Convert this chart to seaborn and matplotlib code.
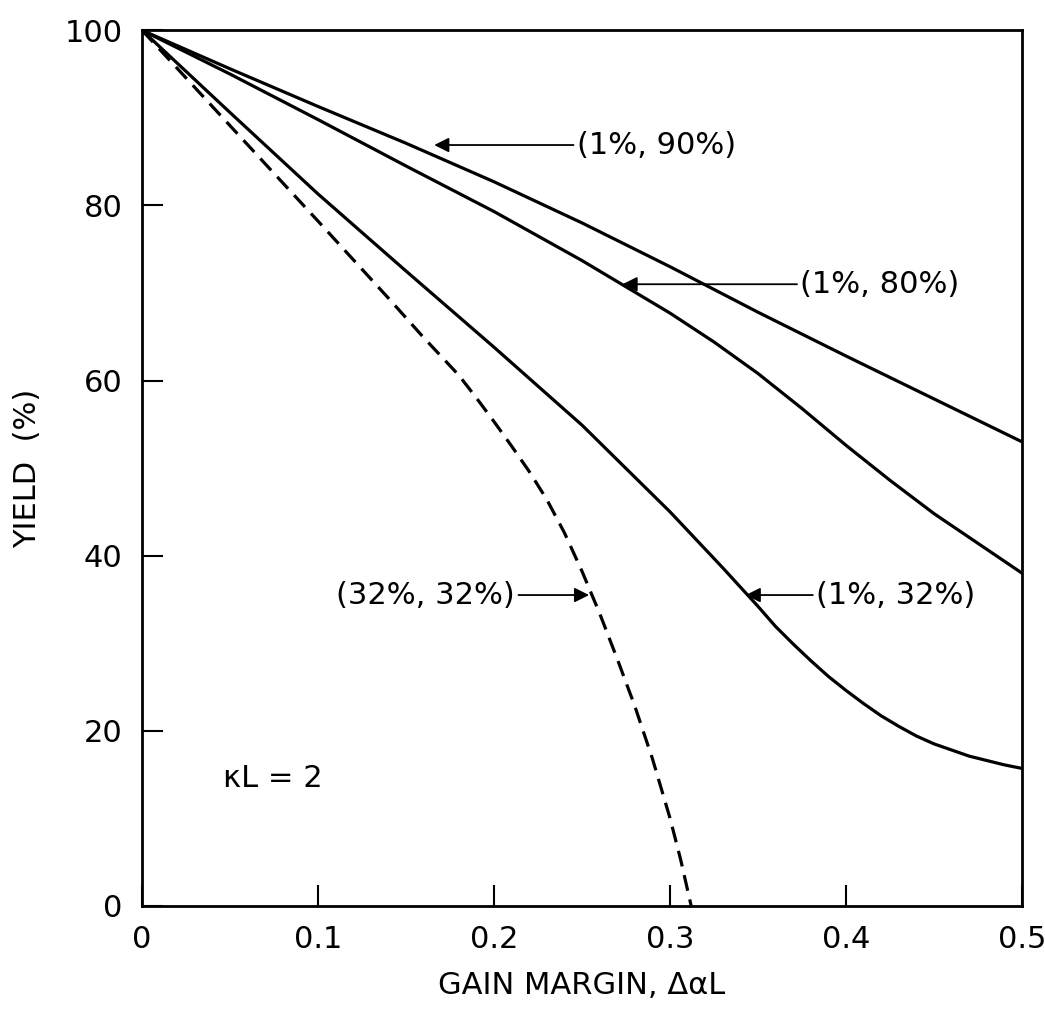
import pandas as pd
import seaborn as sns
import matplotlib.pyplot as plt

# values (gain margin vs yield %)
gain = [0, 0.05, 0.10, 0.15, 0.20, 0.25, 0.30, 0.35, 0.40, 0.45, 0.50]
yield_1_90 = [100, 95.6, 91.3, 87.1, 82.7, 78.0, 73.0, 67.8, 62.8, 57.9, 53.0]

gain_1_80 = [0, 0.05, 0.10, 0.15, 0.20, 0.25, 0.30, 0.325, 0.35, 0.375, 0.40,
             0.425, 0.45, 0.475, 0.50]
yield_1_80 = [100, 95.0, 89.8, 84.5, 79.3, 73.7, 67.7, 64.4, 60.8, 56.8, 52.6,
              48.6, 44.8, 41.4, 38.0]

gain_1_32 = [0, 0.05, 0.10, 0.15, 0.20, 0.25, 0.30, 0.33, 0.35, 0.36, 0.37,
             0.38, 0.39, 0.40, 0.41, 0.42, 0.43, 0.44, 0.45, 0.46, 0.47, 0.48,
             0.49, 0.50]
yield_1_32 = [100, 90.6, 81.3, 72.5, 63.8, 54.9, 45.0, 38.6, 34.2, 31.9, 29.9,
              28.0, 26.2, 24.6, 23.1, 21.7, 20.5, 19.4, 18.5, 17.8, 17.1, 16.6,
              16.1, 15.7]

gain_32_32 = [0, 0.05, 0.10, 0.14, 0.16, 0.18, 0.19, 0.20, 0.21, 0.22, 0.23,
              0.24, 0.25, 0.26, 0.27, 0.28, 0.29, 0.30, 0.306, 0.312]
yield_32_32 = [100, 89.1, 78.2, 69.4, 64.9, 60.6, 58.0, 55.3, 52.5, 49.6, 46.4,
               42.6, 38.2, 33.4, 28.2, 22.8, 16.8, 10.0, 5.3, 0]

xticks = [0, 0.1, 0.2, 0.3, 0.4, 0.5]
xtick_labels = ["0", "0.1", "0.2", "0.3", "0.4", "0.5"]
yticks = [0, 20, 40, 60, 80, 100]

sns.set_style("white")
plt.rcParams['font.family'] = ['DejaVu Sans']
plt.rcParams['text.color'] = 'k'
plt.rcParams['axes.labelcolor'] = 'k'

fig = plt.figure(figsize=(10.45, 10.11), dpi=100)
ax = fig.add_axes([0.136, 0.104, 0.842, 0.866])

lw = 2.3
sns.lineplot(x=gain, y=yield_1_90, color='k', lw=lw, ax=ax)
sns.lineplot(x=gain_1_80, y=yield_1_80, color='k', lw=lw, ax=ax)
sns.lineplot(x=gain_1_32, y=yield_1_32, color='k', lw=lw, ax=ax)
sns.lineplot(x=gain_32_32, y=yield_32_32, color='k', lw=lw,
             linestyle=(0, (5, 2.8)), ax=ax)

ax.set_xlim(0, 0.5)
ax.set_ylim(0, 100)
ax.set_xticks(xticks)
ax.set_xticklabels(xtick_labels)
ax.set_yticks(yticks)
ax.tick_params(direction='in', length=15, width=1.5, labelsize=22, pad=14,
               colors='k', bottom=True, left=True, top=False, right=False)
for s in ax.spines.values():
    s.set_linewidth(2)
    s.set_color('k')

fs = 22
ax.set_xlabel("GAIN MARGIN, ΔαL", fontsize=fs, labelpad=12)
ax.set_ylabel("YIELD  (%)", fontsize=fs, labelpad=16)

arrow = dict(arrowstyle='-|>', color='k', lw=1.3, mutation_scale=22,
             shrinkA=0, shrinkB=0)
ax.annotate("(1%, 90%)", xy=(0.166, 86.9), xytext=(0.247, 86.9),
            fontsize=fs, va='center', ha='left', arrowprops=arrow)
ax.annotate("(1%, 80%)", xy=(0.273, 71.0), xytext=(0.374, 71.0),
            fontsize=fs, va='center', ha='left', arrowprops=arrow)
ax.annotate("(32%, 32%)", xy=(0.254, 35.5), xytext=(0.212, 35.5),
            fontsize=fs, va='center', ha='right', arrowprops=arrow)
ax.annotate("(1%, 32%)", xy=(0.343, 35.5), xytext=(0.383, 35.5),
            fontsize=fs, va='center', ha='left', arrowprops=arrow)

ax.text(0.046, 14.6, "κL = 2", fontsize=fs, va='center', ha='left')

plt.savefig("out.png", dpi=100)
